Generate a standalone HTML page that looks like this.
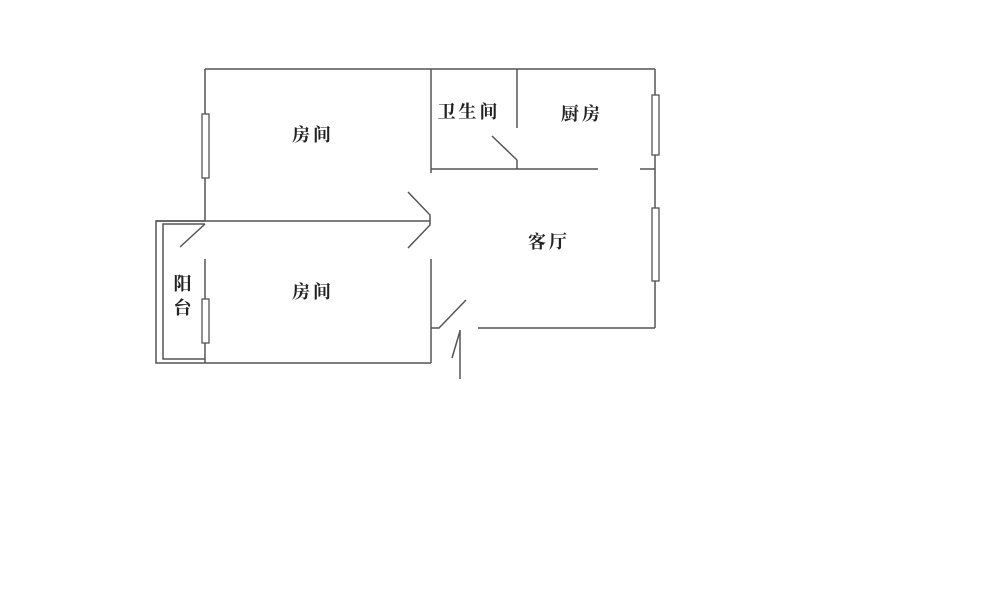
<!DOCTYPE html>
<html><head><meta charset="utf-8"><style>
html,body{margin:0;padding:0;background:#fff;}
svg{display:block}
text{font-family:"Liberation Serif","Noto Serif CJK SC",serif;font-size:18px;font-weight:bold;fill:#222;letter-spacing:3px;}
</style></head><body>
<svg width="1000" height="607" viewBox="0 0 1000 607" xmlns="http://www.w3.org/2000/svg">
<g stroke="#555" stroke-width="1.5" fill="none">
<line x1="205" y1="69" x2="655" y2="69"/>
<line x1="205" y1="69" x2="205" y2="221"/>
<line x1="655" y1="69" x2="655" y2="328"/>
<line x1="478" y1="328" x2="655" y2="328"/>
<line x1="156" y1="221" x2="430" y2="221"/>
<polyline points="205,221 156,221 156,363 205,363"/>
<polyline points="205,224 163,224 163,359 205,359"/>
<line x1="205" y1="224" x2="180" y2="247"/>
<line x1="205" y1="259" x2="205" y2="363"/>
<line x1="205" y1="363" x2="431" y2="363"/>
<line x1="431" y1="259" x2="431" y2="363"/>
<line x1="431" y1="69" x2="431" y2="173"/>
<polyline points="408,192 430,215 430,225 408,248"/>
<polyline points="431,328 439,328 466,300"/>
<line x1="460" y1="330" x2="460" y2="379"/>
<line x1="452" y1="358" x2="460" y2="331"/>
<line x1="517" y1="69" x2="517" y2="128"/>
<line x1="431" y1="169" x2="598" y2="169"/>
<line x1="640" y1="169" x2="655" y2="169"/>
<line x1="492" y1="136" x2="517" y2="160"/>
<line x1="517" y1="160" x2="517" y2="169"/>
</g>
<g stroke="#555" stroke-width="1.3" fill="#fff">
<rect x="202" y="114" width="7" height="64"/>
<rect x="202" y="299" width="7" height="44"/>
<rect x="652" y="95" width="7" height="60"/>
<rect x="652" y="208" width="7" height="73"/>
</g>
<text x="313" y="141" text-anchor="middle">房间</text>
<text x="469" y="118" text-anchor="middle">卫生间</text>
<text x="582" y="120" text-anchor="middle">厨房</text>
<text x="549" y="248" text-anchor="middle">客厅</text>
<text x="313" y="298" text-anchor="middle">房间</text>
<text x="184" y="290" text-anchor="middle">阳</text>
<text x="184" y="314" text-anchor="middle">台</text>
</svg>
</body></html>
